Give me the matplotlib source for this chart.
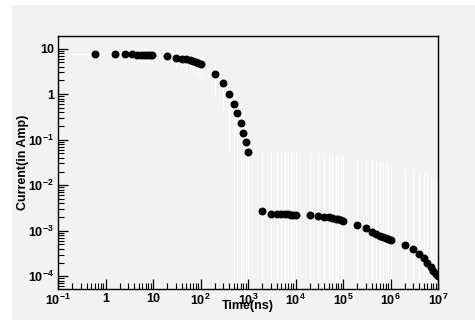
import matplotlib
matplotlib.use("Agg")
import matplotlib.pyplot as plt
from matplotlib.patches import Rectangle
from matplotlib.ticker import FixedLocator, LogLocator, NullFormatter

plt.rcParams['font.family'] = ['Liberation Sans', 'DejaVu Sans']
plt.rcParams['font.weight'] = 'bold'
plt.rcParams['mathtext.fontset'] = 'custom'
plt.rcParams['mathtext.rm'] = 'Liberation Sans:bold'
plt.rcParams['mathtext.it'] = 'Liberation Sans:bold'
plt.rcParams['mathtext.bf'] = 'Liberation Sans:bold'

# time (ns)
time_ns = [0.6, 1.6, 2.6, 3.6, 4.6, 5.6, 6.6, 7.6, 8.6, 9.6,
           20, 30, 40, 50, 60, 70, 80, 90, 100,
           200, 300, 400, 500, 600, 700, 800, 900, 1000,
           2e3, 3e3, 4e3, 5e3, 6e3, 7e3, 8e3, 9e3, 1e4,
           2e4, 3e4, 4e4, 5e4, 6e4, 7e4, 8e4, 9e4, 1e5,
           2e5, 3e5, 4e5, 5e5, 6e5, 7e5, 8e5, 9e5, 1e6,
           2e6, 3e6, 4e6, 5e6, 6e6, 7e6, 8e6, 9e6, 1e7]

# current (Amp)
current = [7.6, 7.6, 7.5, 7.5, 7.4, 7.3, 7.3, 7.3, 7.2, 7.2,
           6.9, 6.4, 6.0, 5.8, 5.6, 5.3, 5.1, 4.85, 4.6,
           2.8, 1.74, 1.0, 0.62, 0.38, 0.233, 0.143, 0.088, 0.053,
           2.65e-3, 2.3e-3, 2.3e-3, 2.3e-3, 2.28e-3, 2.28e-3, 2.27e-3, 2.26e-3, 2.25e-3,
           2.18e-3, 2.07e-3, 2.02e-3, 1.97e-3, 1.90e-3, 1.84e-3, 1.78e-3, 1.72e-3, 1.66e-3,
           1.33e-3, 1.15e-3, 9.5e-4, 8.5e-4, 7.8e-4, 7.3e-4, 6.9e-4, 6.6e-4, 6.25e-4,
           4.8e-4, 3.9e-4, 3.05e-4, 2.5e-4, 1.97e-4, 1.59e-4, 1.29e-4, 1.13e-4, 1.01e-4]

# error on current
current_err = [2.8, 2.8, 2.8, 2.8, 2.8, 2.8, 2.8, 2.8, 2.8, 2.8,
               2.6, 2.6, 2.5, 2.5, 2.4, 2.4, 2.3, 2.3, 2.2,
               1.9, 1.3, 0.95, 0.65, 0.45, 0.3, 0.2, 0.12, 0.07,
               0.052, 0.052, 0.052, 0.052, 0.052, 0.052, 0.052, 0.052, 0.052,
               0.048, 0.048, 0.047, 0.047, 0.046, 0.045, 0.044, 0.043, 0.042,
               0.038, 0.036, 0.035, 0.034, 0.033, 0.032, 0.030, 0.029, 0.027,
               0.022, 0.021, 0.020, 0.019, 0.017, 0.015, 0.014, 0.012, 0.011]

# only the first point has a (lower) time error
time_err_low = [0.6] + [0] * 63
time_err_high = [0] * 64

x_ticks = [1e-1, 1, 10, 1e2, 1e3, 1e4, 1e5, 1e6, 1e7]
x_labels = ['$10^{-1}$', '1', '10', '$10^{2}$', '$10^{3}$', '$10^{4}$',
            '$10^{5}$', '$10^{6}$', '$10^{7}$']
y_ticks = [1e-4, 1e-3, 1e-2, 1e-1, 1, 10]
y_labels = ['$10^{-4}$', '$10^{-3}$', '$10^{-2}$', '$10^{-1}$', '1', '10']

bg = '#f2f2f2'

fig = plt.figure(figsize=(4.75, 3.2), dpi=100)
fig.patches.append(Rectangle((12 / 475, 0), 1, 1 - 5 / 320, transform=fig.transFigure,
                             facecolor=bg, edgecolor='none', zorder=-10))
ax = fig.add_axes([58 / 475, 1 - 289 / 320, 380 / 475, 253 / 320])
ax.set_facecolor(bg)

ax.set_xscale('log', nonpositive='clip')
ax.set_yscale('log', nonpositive='clip')

ax.errorbar(time_ns, current, yerr=current_err, xerr=[time_err_low, time_err_high],
            fmt='none', ecolor='white', elinewidth=0.8, capsize=0, zorder=1)
ax.plot(time_ns, current, 'o', color='black', ms=4.7, zorder=3)

ax.set_xlim(0.1, 1e7)
ax.set_ylim(5.24e-5, 19.0)

ax.xaxis.set_major_locator(FixedLocator(x_ticks))
ax.set_xticklabels(x_labels)
ax.yaxis.set_major_locator(FixedLocator(y_ticks))
ax.set_yticklabels(y_labels)
ax.xaxis.set_minor_locator(LogLocator(base=10, subs=range(2, 10), numticks=20))
ax.yaxis.set_minor_locator(LogLocator(base=10, subs=range(2, 10), numticks=20))
ax.xaxis.set_minor_formatter(NullFormatter())
ax.yaxis.set_minor_formatter(NullFormatter())

ax.tick_params(which='both', direction='in', top=False, right=False, labelsize=9)
ax.tick_params(which='major', length=7, width=0.9)
ax.tick_params(which='minor', length=4, width=0.8)
ax.tick_params(axis='x', pad=3)
ax.tick_params(axis='y', pad=3)

for s in ax.spines.values():
    s.set_linewidth(1.0)
    s.set_color('black')

ax.set_xlabel('Time(ns)', fontsize=9, fontweight='bold')
ax.set_ylabel('Current(in Amp)', fontsize=9, fontweight='bold')
ax.xaxis.set_label_coords(0.5, -0.045)
ax.yaxis.set_label_coords(-0.077, 0.5)

fig.savefig('out.png', dpi=100, facecolor='white')
